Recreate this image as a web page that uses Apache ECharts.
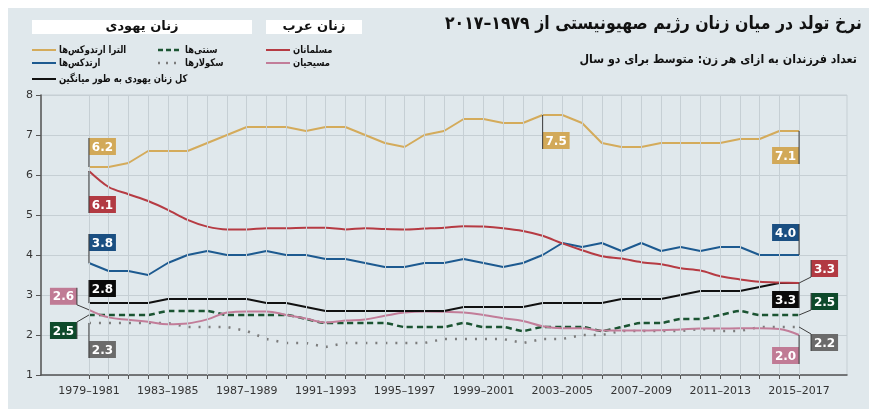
<!DOCTYPE html>
<html>
<head>
<meta charset="utf-8">
<script src="https://cdn.jsdelivr.net/npm/echarts@6/dist/echarts.min.js"></script>
<style>
  html, body { margin: 0; padding: 0; background: #fff; }
  #chart { width: 869px; height: 409px; }
</style>
</head>
<body>
<div id="chart"></div>
<script>
// start year of each two-year period (1979-1981 ... 2015-2017)
var startYears = [1979, 1980, 1981, 1982, 1983, 1984, 1985, 1986, 1987, 1988, 1989, 1990,
  1991, 1992, 1993, 1994, 1995, 1996, 1997, 1998, 1999, 2000, 2001, 2002,
  2003, 2004, 2005, 2006, 2007, 2008, 2009, 2010, 2011, 2012, 2013, 2014, 2015];
var periodLabels = ['1979–1981', '1983–1985', '1987–1989', '1991–1993', '1995–1997',
  '1999–2001', '2003–2005', '2007–2009', '2011–2013', '2015–2017'];

var ultraOrthodox = [6.2, 6.2, 6.3, 6.6, 6.6, 6.6, 6.8, 7.0, 7.2, 7.2, 7.2, 7.1,
  7.2, 7.2, 7.0, 6.8, 6.7, 7.0, 7.1, 7.4, 7.4, 7.3, 7.3, 7.5,
  7.5, 7.3, 6.8, 6.7, 6.7, 6.8, 6.8, 6.8, 6.8, 6.9, 6.9, 7.1, 7.1];
var orthodox = [3.8, 3.6, 3.6, 3.5, 3.8, 4.0, 4.1, 4.0, 4.0, 4.1, 4.0, 4.0,
  3.9, 3.9, 3.8, 3.7, 3.7, 3.8, 3.8, 3.9, 3.8, 3.7, 3.8, 4.0,
  4.3, 4.2, 4.3, 4.1, 4.3, 4.1, 4.2, 4.1, 4.2, 4.2, 4.0, 4.0, 4.0];
var traditional = [2.5, 2.5, 2.5, 2.5, 2.6, 2.6, 2.6, 2.5, 2.5, 2.5, 2.5, 2.4,
  2.3, 2.3, 2.3, 2.3, 2.2, 2.2, 2.2, 2.3, 2.2, 2.2, 2.1, 2.2,
  2.2, 2.2, 2.1, 2.2, 2.3, 2.3, 2.4, 2.4, 2.5, 2.6, 2.5, 2.5, 2.5];
var secular = [2.3, 2.3, 2.3, 2.3, 2.3, 2.2, 2.2, 2.2, 2.1, 1.9, 1.8, 1.8,
  1.7, 1.8, 1.8, 1.8, 1.8, 1.8, 1.9, 1.9, 1.9, 1.9, 1.8, 1.9,
  1.9, 2.0, 2.0, 2.1, 2.1, 2.1, 2.1, 2.15, 2.1, 2.1, 2.2, 2.2, 2.2];
var allJewish = [2.8, 2.8, 2.8, 2.8, 2.9, 2.9, 2.9, 2.9, 2.9, 2.8, 2.8, 2.7,
  2.6, 2.6, 2.6, 2.6, 2.6, 2.6, 2.6, 2.7, 2.7, 2.7, 2.7, 2.8,
  2.8, 2.8, 2.8, 2.9, 2.9, 2.9, 3.0, 3.1, 3.1, 3.1, 3.2, 3.3, 3.3];
var muslims = [6.1, 5.7, 5.52, 5.35, 5.13, 4.88, 4.71, 4.64, 4.64, 4.67, 4.67, 4.68,
  4.68, 4.64, 4.67, 4.65, 4.64, 4.66, 4.68, 4.72, 4.71, 4.67, 4.6, 4.48,
  4.29, 4.12, 3.97, 3.91, 3.82, 3.77, 3.67, 3.61, 3.47, 3.39, 3.33, 3.31, 3.3];
var christians = [2.63, 2.44, 2.38, 2.33, 2.27, 2.29, 2.39, 2.56, 2.59, 2.59, 2.5, 2.41,
  2.31, 2.36, 2.39, 2.48, 2.56, 2.59, 2.58, 2.56, 2.5, 2.42, 2.35, 2.22,
  2.17, 2.17, 2.11, 2.11, 2.11, 2.12, 2.14, 2.16, 2.16, 2.17, 2.17, 2.15, 2.0];

var FONT = 'DejaVu Sans';
var C = {
  gold: '#d4ab5b', blue: '#1d5a90', green: '#1b5432', grey: '#7c7c7c',
  black: '#111111', red: '#b63b43', pink: '#c27d99'
};

var chart = echarts.init(document.getElementById('chart'));

function pairs(values) {
  return startYears.map(function (y, i) { return [y, values[i]]; });
}

function line(name, values, color, style, smooth) {
  return {
    name: name, type: 'line', data: pairs(values), showSymbol: false, smooth: smooth || false,
    lineStyle: Object.assign({ color: color, width: 2 }, style || {}),
    itemStyle: { color: color }, z: 3, silent: true
  };
}

var last = startYears.length - 1;
var xPad = 2.43;

chart.setOption({
  animation: false,
  backgroundColor: '#e0e8ec',
  grid: { left: 41, right: 22, top: 95, bottom: 34, show: true, borderColor: '#c6cfd4', borderWidth: 1 },
  xAxis: {
    type: 'value',
    min: startYears[0] - xPad,
    max: startYears[last] + xPad,
    splitLine: { show: false },
    axisLine: { lineStyle: { color: '#555', width: 1.5 } },
    axisTick: { show: true, length: 4, customValues: startYears, lineStyle: { color: '#555' } },
    axisLabel: {
      customValues: periodLabels.map(function (s) { return parseInt(s, 10); }),
      formatter: function (v) {
        for (var k = 0; k < periodLabels.length; k++) {
          if (parseInt(periodLabels[k], 10) === v) return periodLabels[k];
        }
        return '';
      },
      color: '#333', fontFamily: FONT, fontSize: 11, margin: 11
    }
  },
  yAxis: {
    type: 'value', min: 1, max: 8, interval: 1,
    axisLine: { show: true, lineStyle: { color: '#555', width: 1.5 } },
    axisTick: { show: true, length: 5, lineStyle: { color: '#555' } },
    axisLabel: { color: '#333', fontFamily: FONT, fontSize: 11, margin: 8 },
    splitLine: { lineStyle: { color: '#c6cfd4', width: 1 } }
  },
  series: [
    {
      type: 'line', data: [], z: 1, silent: true,
      markLine: {
        silent: true, symbol: 'none', label: { show: false }, animation: false,
        lineStyle: { color: '#c6cfd4', width: 1, type: 'solid' },
        emphasis: { disabled: true },
        data: startYears.map(function (y) { return { xAxis: y }; })
      }
    },
    line('سکولارها', secular, C.grey, { type: [2, 8], width: 2.5 }),
    line('سنتی‌ها', traditional, C.green, { type: [6, 4], width: 2.5 }, 0.2),
    line('مسیحیان', christians, C.pink, null, 0.4),
    line('کل زنان یهودی به طور میانگین', allJewish, C.black),
    line('ارتدکس‌ها', orthodox, C.blue),
    line('مسلمانان', muslims, C.red, null, 0.3),
    line('الترا ارتدوکس‌ها', ultraOrthodox, C.gold)
  ]
});

// value tags: box offset (px) from the data point, edge holding the leader line
var BW = 27, BH = 17;
var tags = [
  { v: ultraOrthodox, i: 0, dx: 0, dy: -29, edge: 'left', fill: '#d2a959' },
  { v: muslims, i: 0, dx: 0, dy: 25, edge: 'left', fill: '#b23a42' },
  { v: orthodox, i: 0, dx: 0, dy: -29, edge: 'left', fill: '#1a4f82' },
  { v: allJewish, i: 0, dx: 0, dy: -23, edge: 'left', fill: '#0a0a0a' },
  { v: secular, i: 0, dx: 0, dy: 18, edge: 'left', fill: '#6b6b6b' },
  { v: christians, i: 0, dx: -39, dy: -22, edge: 'right', fill: '#c07b95' },
  { v: traditional, i: 0, dx: -39, dy: 7, edge: 'right', fill: '#0e4a2b' },
  { v: ultraOrthodox, i: 23, dx: 0, dy: 17, edge: 'left', fill: '#d2a959' },
  { v: ultraOrthodox, i: last, dx: -27, dy: 16, edge: 'right', fill: '#d2a959' },
  { v: orthodox, i: last, dx: -27, dy: -31, edge: 'right', fill: '#1a4f82' },
  { v: muslims, i: last, dx: 12, dy: -23, edge: 'left', fill: '#b23a42' },
  { v: allJewish, i: last, dx: -27, dy: 8, edge: 'right', fill: '#0a0a0a' },
  { v: traditional, i: last, dx: 12, dy: -22, edge: 'left', fill: '#0e4a2b' },
  { v: secular, i: last, dx: 12, dy: 7, edge: 'left', fill: '#6b6b6b' },
  { v: christians, i: last, dx: -27, dy: 12, edge: 'right', fill: '#c07b95' }
];

function tagGraphics() {
  var out = [];
  tags.forEach(function (t) {
    var p = chart.convertToPixel({ gridIndex: 0 }, [startYears[t.i], t.v[t.i]]);
    var bx = p[0] + t.dx, by = p[1] + t.dy;
    var ex = t.edge === 'left' ? bx : bx + BW;
    var below = by > p[1];
    var near = below ? by : by + BH, far = below ? by + BH : by;
    out.push({ type: 'rect', shape: { x: bx, y: by, width: BW, height: BH }, style: { fill: t.fill }, z: 19 });
    out.push({ type: 'polyline', shape: { points: [p, [ex, near], [ex, far]] },
      style: { stroke: '#3c3c3c', lineWidth: 1, fill: null }, z: 20 });
    out.push({ type: 'text', x: bx + BW / 2, y: by + BH / 2 + 1,
      style: { text: t.v[t.i].toFixed(1), fill: '#fff', font: 'bold 12px ' + FONT, align: 'center', verticalAlign: 'middle' }, z: 21 });
  });
  return out;
}

function txt(x, y, text, size, align, sx) {
  return { type: 'text', x: x, y: y, scaleX: sx || 1, z: 11,
    style: { text: text, fill: '#111', font: 'bold ' + size + 'px ' + FONT, align: align, verticalAlign: 'middle' } };
}

function legendItem(x, y, color, dash, label, width) {
  return [
    { type: 'line', shape: { x1: x, y1: y, x2: x + 24, y2: y },
      style: { stroke: color, lineWidth: width || 2, lineDash: dash || null }, z: 10 },
    txt(x + 27, y, label, 10.5, 'left', 0.8)
  ];
}

function headerGraphics() {
  var g = [
    { type: 'rect', shape: { x: 0, y: 0, width: 869, height: 8 }, style: { fill: '#fff' }, z: 30 },
    { type: 'rect', shape: { x: 0, y: 0, width: 8, height: 409 }, style: { fill: '#fff' }, z: 30 },
    { type: 'rect', shape: { x: 32, y: 20, width: 220, height: 14 }, style: { fill: '#fff' }, z: 10 },
    txt(142, 27, 'زنان یهودی', 13, 'center'),
    { type: 'rect', shape: { x: 266, y: 20, width: 96, height: 14 }, style: { fill: '#fff' }, z: 10 },
    txt(314, 27, 'زنان عرب', 13, 'center'),
    txt(862, 24, 'نرخ تولد در میان زنان رژیم صهیونیستی از ۱۹۷۹–۲۰۱۷', 18, 'right', 0.875),
    txt(857, 60, 'تعداد فرزندان به ازای هر زن: متوسط برای دو سال', 12, 'right', 0.92)
  ];
  return g
    .concat(legendItem(32, 50, C.gold, null, 'الترا ارتدوکس‌ها'))
    .concat(legendItem(158, 50, C.green, [5, 3], 'سنتی‌ها', 2.5))
    .concat(legendItem(266, 50, C.red, null, 'مسلمانان'))
    .concat(legendItem(32, 63, C.blue, null, 'ارتدکس‌ها'))
    .concat(legendItem(158, 63, C.grey, [2, 6], 'سکولارها', 2.5))
    .concat(legendItem(266, 63, C.pink, null, 'مسیحیان'))
    .concat(legendItem(32, 79, C.black, null, 'کل زنان یهودی به طور میانگین'));
}

chart.setOption({ graphic: headerGraphics().concat(tagGraphics()) });
</script>
</body>
</html>
